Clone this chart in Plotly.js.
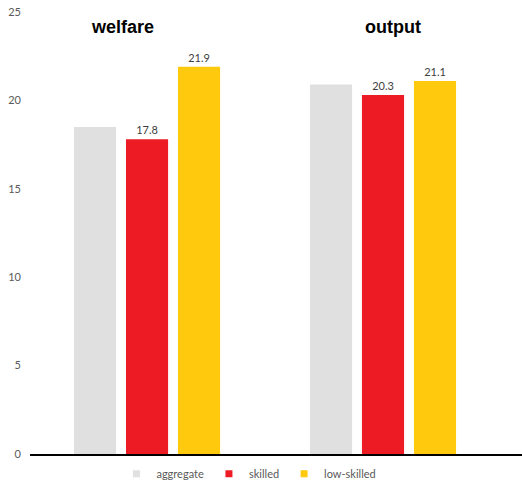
<!DOCTYPE html>
<html>
<head>
<meta charset="utf-8">
<script src="https://cdn.plot.ly/plotly-3.0.1.min.js"></script>
<style>html,body{margin:0;padding:0;background:#fff;}#chart{width:522px;height:481px;}</style>
</head>
<body>
<div id="chart"></div>
<script>
const categories = ["welfare", "output"];
const seriesNames = ["aggregate", "skilled", "low-skilled"];
const aggregate = [18.5, 20.9];
const skilled = [17.8, 20.3];
const lowSkilled = [21.9, 21.1];
const showLabels = [false, true, true];
const colors = ["#E0E0E0", "#ED1C24", "#FFC90E"];
const yTicks = [0, 5, 10, 15, 20, 25];

const allSeries = [aggregate, skilled, lowSkilled];
const traces = allSeries.map((vals, i) => ({
  type: "bar",
  name: seriesNames[i],
  x: categories,
  y: vals,
  marker: {color: colors[i]},
  text: showLabels[i] ? vals.map(v => v.toFixed(1)) : null,
  textposition: showLabels[i] ? "outside" : "none",
  textfont: {family: "Lato, sans-serif", size: 11, color: "#404040"},
  cliponaxis: false,
  showlegend: false,
  hoverinfo: "none"
}));
// legend entries with small square swatches
seriesNames.forEach((n, i) => traces.push({
  type: "scatter", mode: "markers", name: n, x: [null], y: [null],
  marker: {symbol: "square", size: 7, color: colors[i]}, showlegend: true, hoverinfo: "none"
}));

const layout = {
  width: 522, height: 481,
  margin: {l: 30, r: 0, t: 12, b: 26.5, autoexpand: false},
  paper_bgcolor: "#fff", plot_bgcolor: "#fff",
  barmode: "group",
  bargap: 0.339,
  bargroupgap: 0.19,
  showlegend: true,
  legend: {orientation: "h", x: 0.445, xanchor: "center", y: -0.012, yanchor: "top",
           font: {family: "Lato, sans-serif", size: 11, color: "#595959"},
           itemwidth: 30, traceorder: "normal", bgcolor: "rgba(0,0,0,0)"},
  xaxis: {type: "category", range: [-0.496, 1.589], showticklabels: false, ticks: "",
          showline: true, linecolor: "#000", linewidth: 2, showgrid: false, zeroline: false,
          fixedrange: true},
  yaxis: {range: [0, 25], tickvals: yTicks, showgrid: false, zeroline: false, showline: false,
          ticklabelstandoff: 8,
          tickfont: {family: "Lato, sans-serif", size: 11, color: "#595959"}},
  annotations: categories.map((c, i) => ({
    text: "<b>" + c + "</b>", xref: "x", yref: "paper", x: i, y: 1, yanchor: "middle",
    xshift: i === 0 ? -25 : 10,
    showarrow: false, font: {family: "Liberation Sans, Arial, sans-serif", size: 18, color: "#000"}
  }))
};
layout.annotations.forEach(a => { a.y = 1 - (27 - 12) / (481 - 12 - 26.5); });

Plotly.newPlot("chart", traces, layout, {displayModeBar: false, staticPlot: true});
</script>
</body>
</html>
